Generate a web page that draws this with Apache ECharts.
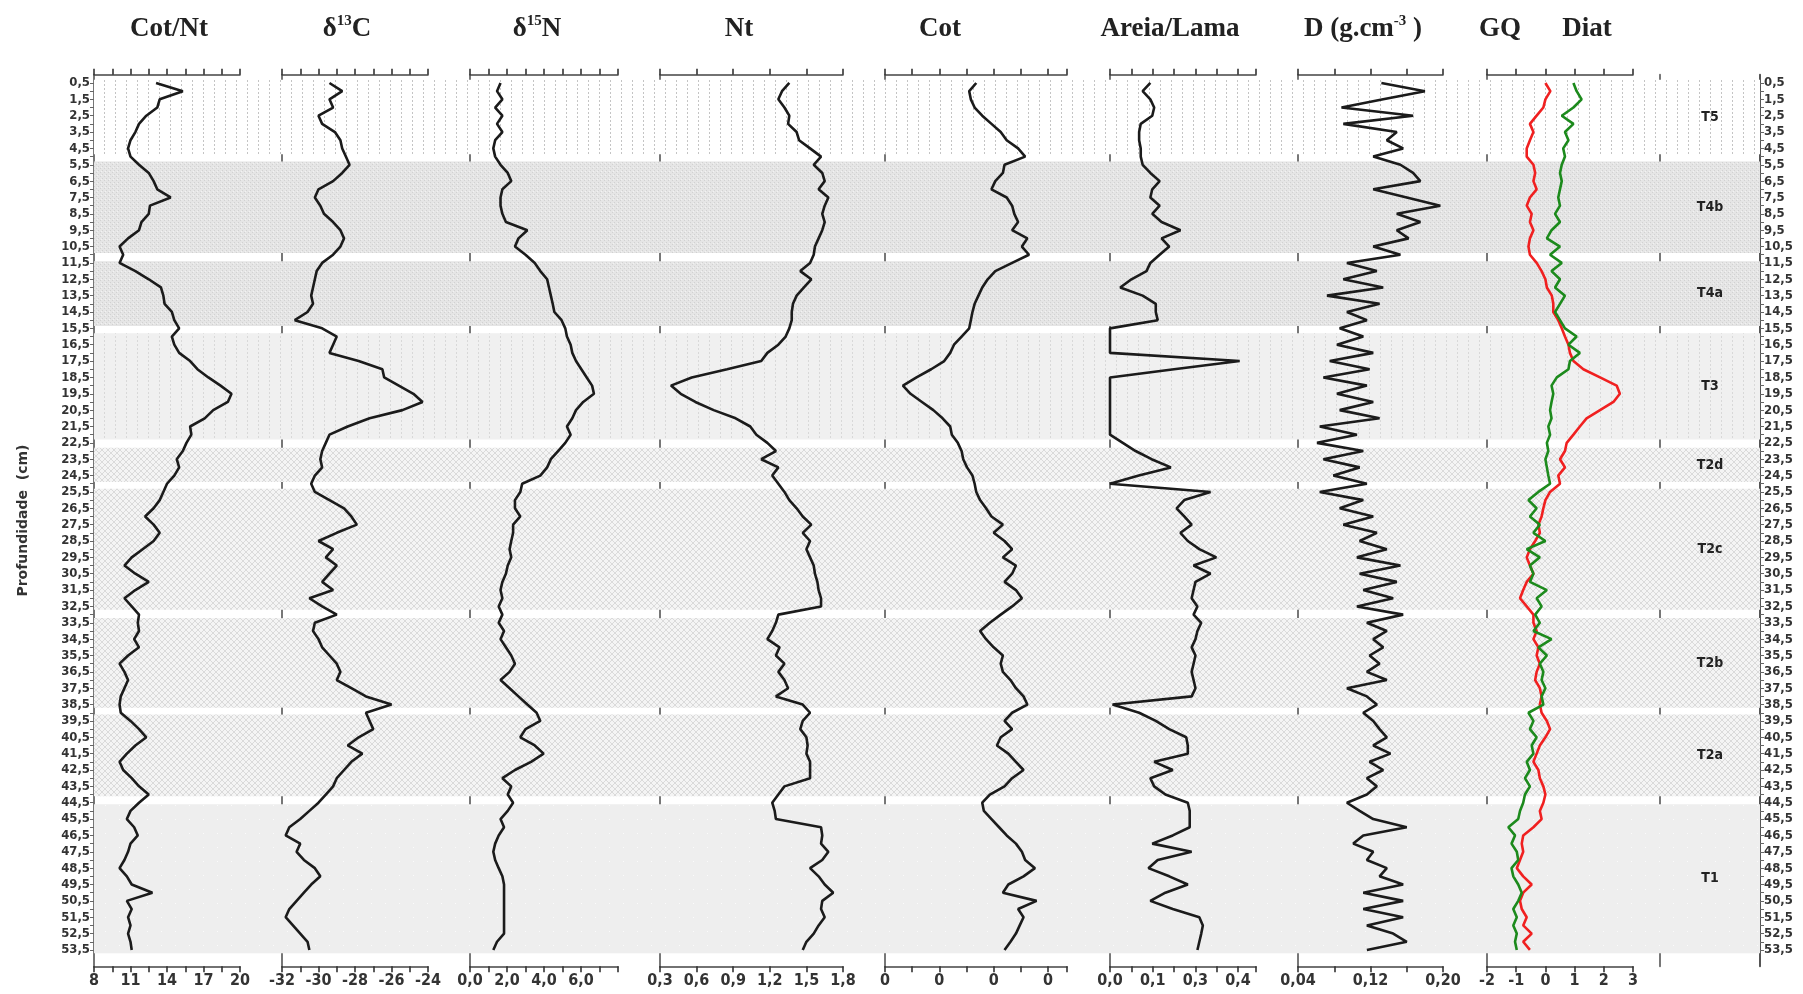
<!DOCTYPE html>
<html>
<head>
<meta charset="utf-8">
<script src="https://cdn.jsdelivr.net/npm/echarts@6/dist/echarts.min.js"></script>
<style>
html, body { margin: 0; background: #fff; }
#container { width: 1803px; height: 994px; }
</style>
</head>
<body>
<div id="container"></div>
<script>
let chart = echarts.init(document.getElementById('container'));

// sampling depth (cm), every 0.5 cm
var depth = [0.5,1,1.5,2,2.5,3,3.5,4,4.5,5,
    5.5,6,6.5,7,7.5,8,8.5,9,9.5,10,
    10.5,11,11.5,12,12.5,13,13.5,14,14.5,15,
    15.5,16,16.5,17,17.5,18,18.5,19,19.5,20,
    20.5,21,21.5,22,22.5,23,23.5,24,24.5,25,
    25.5,26,26.5,27,27.5,28,28.5,29,29.5,30,
    30.5,31,31.5,32,32.5,33,33.5,34,34.5,35,
    35.5,36,36.5,37,37.5,38,38.5,39,39.5,40,
    40.5,41,41.5,42,42.5,43,43.5,44,44.5,45,
    45.5,46,46.5,47,47.5,48,48.5,49,49.5,50,
    50.5,51,51.5,52,52.5,53,53.5];

var cotNt = [13.1,15.3,13.4,13.2,12.3,11.7,11.4,11.0,10.8,11.0,
    11.7,12.5,12.9,13.2,14.3,12.6,12.5,11.9,11.7,10.8,
    10.1,10.4,10.1,11.4,12.5,13.5,13.7,13.8,14.4,14.6,
    15.0,14.4,14.6,15.0,15.9,16.5,17.4,18.4,19.3,19.0,
    17.8,17.1,15.9,16.0,15.6,15.3,14.8,15.0,14.6,14.0,
    13.7,13.4,12.9,12.2,12.9,13.4,12.9,12.0,11.1,10.5,
    11.4,12.5,11.4,10.5,11.1,11.7,11.6,11.7,11.3,11.7,
    10.8,10.1,10.5,10.8,10.5,10.2,10.1,10.2,11.0,11.7,
    12.3,11.4,10.7,10.1,10.4,11.1,11.7,12.5,11.7,11.0,
    10.7,11.3,11.6,11.0,10.8,10.5,10.1,10.7,11.1,12.8,
    10.7,11.1,10.8,11.0,10.8,11.0,11.1];

var d13C = [-29.4,-28.7,-29.4,-29.2,-30.0,-29.8,-29.1,-28.8,-28.7,-28.5,
    -28.3,-28.7,-29.2,-30.0,-30.2,-29.9,-29.7,-29.2,-28.8,-28.6,
    -28.8,-29.2,-29.8,-30.1,-30.2,-30.3,-30.4,-30.3,-30.6,-31.3,
    -29.8,-29.0,-29.2,-29.4,-27.8,-26.5,-26.4,-25.6,-24.8,-24.3,
    -25.4,-27.2,-28.4,-29.4,-29.6,-29.8,-29.9,-29.8,-30.2,-30.4,
    -30.2,-29.4,-28.6,-28.2,-27.9,-29.0,-30.0,-29.2,-29.6,-29.0,
    -29.4,-29.8,-29.2,-30.5,-29.8,-29.0,-30.2,-30.3,-30.0,-29.8,
    -29.4,-29.0,-28.8,-29.0,-28.2,-27.4,-26.0,-27.4,-27.2,-27.0,
    -27.8,-28.4,-27.6,-28.2,-28.6,-29.0,-29.2,-29.6,-30.0,-30.5,
    -31.0,-31.6,-31.8,-31.0,-31.2,-30.8,-30.2,-29.9,-30.4,-30.8,
    -31.2,-31.6,-31.8,-31.4,-31.0,-30.6,-30.5];

var d15N = [1.65,1.46,1.75,1.36,1.75,1.46,1.75,1.36,1.26,1.36,
    1.65,2.04,2.23,1.75,1.65,1.65,1.75,1.94,3.1,2.62,
    2.43,3.0,3.5,3.8,4.17,4.27,4.37,4.47,4.56,4.95,
    5.15,5.24,5.44,5.53,5.73,6.02,6.31,6.6,6.7,6.12,
    5.73,5.53,5.24,5.44,5.15,4.76,4.37,4.17,3.8,2.82,
    2.72,2.43,2.43,2.72,2.33,2.33,2.23,2.14,2.23,2.04,
    1.94,1.75,1.65,1.75,1.55,1.75,1.55,1.84,1.65,1.94,
    2.23,2.43,2.14,1.65,2.14,2.62,3.1,3.6,3.8,3.0,
    2.72,3.5,3.98,3.3,2.43,1.75,2.23,2.04,2.33,2.04,
    1.65,1.84,1.55,1.36,1.26,1.36,1.55,1.75,1.84,1.84,
    1.84,1.84,1.84,1.84,1.84,1.46,1.26];

var nt = [1.36,1.30,1.27,1.32,1.36,1.35,1.42,1.44,1.53,1.62,
    1.56,1.63,1.65,1.60,1.68,1.65,1.63,1.65,1.63,1.60,
    1.57,1.56,1.53,1.45,1.54,1.48,1.42,1.39,1.38,1.38,
    1.36,1.33,1.27,1.18,1.13,0.85,0.56,0.39,0.47,0.59,
    0.74,0.92,1.04,1.09,1.18,1.25,1.13,1.27,1.22,1.27,
    1.32,1.36,1.42,1.47,1.54,1.47,1.53,1.50,1.53,1.56,
    1.57,1.59,1.60,1.62,1.62,1.27,1.25,1.22,1.18,1.28,
    1.25,1.32,1.27,1.32,1.35,1.25,1.47,1.53,1.47,1.45,
    1.50,1.51,1.50,1.53,1.53,1.53,1.32,1.27,1.22,1.24,
    1.25,1.62,1.63,1.62,1.68,1.63,1.53,1.60,1.65,1.72,
    1.63,1.62,1.65,1.60,1.56,1.50,1.47];

var cot = [1.68,1.55,1.58,1.65,1.79,1.96,2.13,2.24,2.45,2.58,
    2.20,2.17,2.03,1.96,2.24,2.34,2.38,2.45,2.34,2.62,
    2.52,2.65,2.34,2.03,1.89,1.79,1.72,1.65,1.61,1.58,
    1.55,1.41,1.27,1.20,1.09,0.85,0.58,0.33,0.47,0.68,
    0.89,1.06,1.20,1.23,1.34,1.41,1.44,1.51,1.61,1.65,
    1.68,1.75,1.86,1.96,2.17,2.00,2.20,2.34,2.17,2.41,
    2.34,2.20,2.41,2.52,2.34,2.13,1.93,1.75,1.86,2.00,
    2.17,2.13,2.17,2.31,2.41,2.55,2.62,2.34,2.20,2.34,
    2.13,2.06,2.27,2.41,2.55,2.34,2.20,1.93,1.79,1.82,
    1.96,2.10,2.24,2.41,2.52,2.58,2.76,2.55,2.27,2.17,
    2.79,2.45,2.55,2.48,2.41,2.31,2.20];

var areiaLama = [0.126,0.102,0.126,0.138,0.132,0.096,0.091,0.091,0.096,0.096,
    0.102,0.126,0.155,0.132,0.126,0.155,0.132,0.161,0.220,0.161,
    0.185,0.155,0.126,0.114,0.067,0.032,0.102,0.143,0.143,0.149,
    0,0,0,0,0.405,0.2,0,0,0,0,
    0,0,0,0,0.04,0.08,0.13,0.19,0.09,0,
    0.314,0.232,0.208,0.232,0.255,0.220,0.243,0.279,0.332,0.261,
    0.314,0.267,0.261,0.255,0.273,0.261,0.285,0.273,0.267,0.255,
    0.267,0.261,0.255,0.261,0.267,0.255,0.008,0.091,0.143,0.185,
    0.238,0.243,0.243,0.138,0.196,0.126,0.138,0.173,0.243,0.249,
    0.249,0.249,0.196,0.132,0.255,0.149,0.120,0.185,0.243,0.173,
    0.126,0.196,0.279,0.290,0.285,0.279,0.273];

var density = [0.132,0.180,0.134,0.088,0.167,0.090,0.149,0.138,0.156,0.123,
    0.153,0.167,0.175,0.123,0.160,0.197,0.149,0.175,0.149,0.162,
    0.123,0.153,0.094,0.127,0.090,0.134,0.072,0.130,0.094,0.116,
    0.086,0.112,0.083,0.123,0.075,0.119,0.068,0.116,0.083,0.123,
    0.086,0.130,0.064,0.105,0.061,0.112,0.068,0.108,0.079,0.116,
    0.064,0.112,0.086,0.123,0.090,0.127,0.108,0.138,0.105,0.153,
    0.108,0.149,0.112,0.145,0.105,0.156,0.116,0.138,0.123,0.134,
    0.119,0.130,0.116,0.138,0.094,0.116,0.127,0.112,0.123,0.130,
    0.138,0.123,0.142,0.119,0.134,0.116,0.127,0.116,0.094,0.108,
    0.123,0.160,0.112,0.101,0.123,0.116,0.138,0.130,0.156,0.112,
    0.156,0.112,0.156,0.116,0.145,0.160,0.116];

var gq = [0.0,0.17,0.0,-0.07,-0.3,-0.53,-0.41,-0.53,-0.64,-0.64,
    -0.41,-0.35,-0.41,-0.30,-0.53,-0.64,-0.47,-0.53,-0.41,-0.53,
    -0.58,-0.53,-0.30,-0.13,0.0,0.05,0.22,0.27,0.27,0.44,
    0.56,0.67,0.79,0.84,0.96,1.30,1.87,2.44,2.55,2.33,
    1.87,1.41,1.18,0.96,0.73,0.67,0.50,0.67,0.44,0.50,
    0.16,0.0,-0.07,-0.13,-0.24,-0.19,-0.35,-0.53,-0.64,-0.53,
    -0.41,-0.64,-0.76,-0.87,-0.64,-0.41,-0.41,-0.30,-0.41,-0.24,
    -0.30,-0.19,-0.30,-0.35,-0.19,-0.13,-0.19,-0.13,0.05,0.16,
    0.0,-0.19,-0.30,-0.41,-0.24,-0.19,-0.07,0.0,-0.07,-0.19,
    -0.13,-0.41,-0.76,-0.81,-0.76,-0.87,-0.98,-0.76,-0.47,-0.76,
    -0.87,-0.81,-0.64,-0.76,-0.47,-0.76,-0.53];

var diat = [0.96,1.07,1.24,0.96,0.56,0.96,0.67,0.79,0.61,0.67,
    0.56,0.50,0.56,0.50,0.44,0.50,0.33,0.50,0.21,0.05,
    0.50,0.16,0.56,0.21,0.50,0.33,0.67,0.50,0.33,0.50,
    0.67,1.07,0.79,1.18,0.84,0.79,0.39,0.21,0.27,0.21,
    0.16,0.21,0.10,0.16,0.05,0.10,0.0,0.05,0.10,0.16,
    -0.24,-0.58,-0.30,-0.53,-0.19,-0.41,0.0,-0.64,-0.19,-0.53,
    -0.41,-0.53,0.05,-0.30,-0.13,-0.35,-0.19,-0.41,0.21,-0.24,
    0.05,-0.19,-0.07,-0.13,0.0,-0.13,-0.07,-0.58,-0.41,-0.53,
    -0.30,-0.47,-0.41,-0.64,-0.53,-0.70,-0.53,-0.70,-0.76,-0.87,
    -0.93,-1.27,-1.04,-1.16,-0.98,-0.93,-1.16,-1.10,-0.93,-0.81,
    -0.93,-1.10,-0.98,-1.10,-0.98,-1.04,-0.98];

// zones (depth limits, cm)
var zoneNames = ['T5', 'T4b', 'T4a', 'T3', 'T2d', 'T2c', 'T2b', 'T2a', 'T1'];
var zoneTop = [0.3, 5.3, 11.4, 15.8, 22.8, 25.3, 33.2, 39.1, 44.6];
var zoneBottom = [4.85, 10.9, 15.35, 22.3, 24.9, 32.7, 38.7, 44.1, 53.7];

var NARROW = "'Liberation Sans Narrow','DejaVu Sans Condensed','Arial Narrow',sans-serif";
var SERIF = "'Liberation Serif','Times New Roman',serif";
var TOP = 74.8, HEIGHT = 891.5, DMAX = 54.5;

function pattern(w, h, bg, draw) {
    let c = document.createElement('canvas');
    c.width = w;
    c.height = h;
    let ctx = c.getContext('2d');
    ctx.fillStyle = bg;
    ctx.fillRect(0, 0, w, h);
    draw(ctx);
    return { image: c, repeat: 'repeat' };
}
var patVert = pattern(11, 4, '#ffffff', ctx => { ctx.fillStyle = '#c4c4c4'; ctx.fillRect(5, 0, 1, 2); });
var patSpeck = pattern(4, 4, '#e5e5e5', ctx => {
    ctx.fillStyle = '#d1d1d1'; ctx.fillRect(0, 0, 1, 1); ctx.fillRect(2, 2, 1, 1);
    ctx.fillStyle = '#f2f2f2'; ctx.fillRect(1, 3, 1, 1);
});
var patVertGray = pattern(11, 4, '#f0f0f0', ctx => { ctx.fillStyle = '#d8d8d8'; ctx.fillRect(5, 0, 1, 2); });
var patHatch = pattern(6, 6, '#f4f4f4', ctx => {
    ctx.fillStyle = '#dadada';
    for (let i = 0; i < 6; i++) { ctx.fillRect(i, i, 1, 1); ctx.fillRect(5 - i, i, 1, 1); }
});
var patPlain = pattern(14, 14, '#eeeeee', ctx => { ctx.fillStyle = '#fbfbfb'; ctx.fillRect(7, 7, 1, 1); });
var zonePattern = [patVert, patSpeck, patSpeck, patVertGray, patHatch, patHatch, patHatch, patHatch, patPlain];

function comma(v, n) {
    return v.toFixed(n).replace('.', ',');
}

var panels = [
    { left: 94, width: 146, min: 8, max: 20, interval: 3, minor: 2, fmt: v => String(v),
      lines: [{ data: cotNt, color: '#1b1b1b' }] },
    { left: 282, width: 146, min: -32, max: -24, interval: 2, minor: 2, fmt: v => String(v),
      lines: [{ data: d13C, color: '#1b1b1b' }] },
    { left: 470, width: 148, min: 0, max: 8, interval: 2, minor: 2, fmt: v => comma(v, 1), hideMax: true,
      lines: [{ data: d15N, color: '#1b1b1b' }] },
    { left: 660, width: 183, min: 0.3, max: 1.8, interval: 0.3, minor: 0, fmt: v => comma(v, 1),
      lines: [{ data: nt, color: '#1b1b1b' }] },
    { left: 885, width: 182, min: 0, max: 3.35, interval: 1, minor: 2, fmt: v => '0', hideMax: true,
      lines: [{ data: cot, color: '#1b1b1b' }] },
    { left: 1110, width: 146, min: 0, max: 0.456, interval: 0.4 / 3, minor: 2, fmt: v => comma(v, 1), hideMax: true,
      lines: [{ data: areiaLama, color: '#1b1b1b' }] },
    { left: 1298, width: 145, min: 0.04, max: 0.2, interval: 0.04, minor: 0,
      fmt: v => (Math.round(v / 0.04) % 2 === 1 ? comma(v, 2) : ''),
      lines: [{ data: density, color: '#1b1b1b' }] },
    { left: 1487, width: 146, min: -2, max: 3, interval: 1, minor: 0, fmt: v => String(v),
      lines: [{ data: gq, color: '#f02020' }, { data: diat, color: '#1c8a1c' }] },
];

function panelXAxis(p, gi, pos) {
    return {
        type: 'value', gridIndex: gi, position: pos,
        min: p.min, max: p.max, interval: p.interval,
        splitLine: { show: false },
        axisLine: { show: true, onZero: false, lineStyle: { color: '#444', width: 1.6 } },
        axisTick: { show: true, length: 6, lineStyle: { color: '#333', width: 1.6 } },
        minorTick: { show: p.minor > 0, splitNumber: p.minor || 5, length: 6, lineStyle: { color: '#333', width: 1.6 } },
        axisLabel: pos === 'top' ? { show: false } : {
            show: true, formatter: p.fmt, showMaxLabel: !p.hideMax,
            fontFamily: NARROW, fontWeight: 'bold', fontSize: 16, color: '#333', margin: 7
        }
    };
}

function depthAxis(gi, extra) {
    return Object.assign({
        type: 'value', gridIndex: gi, inverse: true, min: 0, max: DMAX,
        splitLine: { show: false },
        axisLine: { show: true, onZero: false, lineStyle: { color: '#777', width: 2 } },
        axisTick: { show: false },
        axisLabel: { show: false }
    }, extra);
}

var labelDepth = depth.filter(d => d % 1 === 0.5);
function depthScale(pos) {
    return {
        position: pos,
        axisLine: { show: true, onZero: false, lineStyle: { color: '#555', width: 2 } },
        axisTick: { show: true, length: 4, customValues: depth, lineStyle: { color: '#666' } },
        axisLabel: {
            show: true, customValues: labelDepth, formatter: v => comma(v, 1),
            fontFamily: NARROW, fontWeight: 'bold', fontSize: 13, color: '#333', margin: 4
        }
    };
}

var grids = [{ left: 94, top: TOP, width: 1666, height: HEIGHT }];
panels.forEach(p => grids.push({ left: p.left, top: TOP, width: p.width, height: HEIGHT }));
grids.push({ left: 1660, top: TOP, width: 100, height: HEIGHT });
grids.forEach(g => { g.containLabel = false; g.outerBoundsMode = 'none'; });

var xAxes = [
    { type: 'value', gridIndex: 0, show: false, min: 0, max: 1 },
    { type: 'value', gridIndex: 9, show: false, min: 0, max: 1 }
];
var yAxes = [
    depthAxis(0, Object.assign(depthScale('left'), {
        name: 'Profundidade  (cm)', nameLocation: 'middle', nameGap: 64, nameRotate: 90,
        nameTextStyle: { fontFamily: 'DejaVu Sans', fontWeight: 'bold', fontSize: 14, color: '#333' }
    })),
    depthAxis(0, depthScale('right')),
    depthAxis(9, { position: 'left' })
];

var series = [
    {
        type: 'line', xAxisIndex: 0, yAxisIndex: 0, data: [], z: 0, silent: true,
        markArea: {
            silent: true, label: { show: false },
            data: zoneNames.map((n, i) => [{ yAxis: zoneTop[i], itemStyle: { color: zonePattern[i] } }, { yAxis: zoneBottom[i] }])
        }
    },
    {
        type: 'line', xAxisIndex: 1, yAxisIndex: 2, data: [], silent: true,
        markArea: {
            silent: true,
            itemStyle: { color: 'rgba(0,0,0,0)' },
            label: { show: true, position: 'inside', fontFamily: NARROW, fontWeight: 'bold', fontSize: 14, color: '#222' },
            data: zoneNames.map((n, i) => [{ name: n, yAxis: zoneTop[i] }, { yAxis: zoneBottom[i] }])
        }
    }
];

panels.forEach((p, k) => {
    let gi = k + 1;
    xAxes.push(panelXAxis(p, gi, 'top'));
    xAxes.push(panelXAxis(p, gi, 'bottom'));
    yAxes.push(depthAxis(gi, {}));
    let xi = xAxes.length - 1;
    let yi = yAxes.length - 1;
    p.lines.forEach(l => {
        series.push({
            type: 'line', xAxisIndex: xi, yAxisIndex: yi, z: 5,
            showSymbol: false, symbol: 'none', animation: false,
            lineStyle: { color: l.color, width: 2.6 },
            data: depth.map((d, i) => [l.data[i], d])
        });
    });
});

var titles = [
    [169, '{b|Cot/Nt}'],
    [347, '{b|δ}{s|13}{b|C}'],
    [537, '{b|δ}{s|15}{b|N}'],
    [739, '{b|Nt}'],
    [940, '{b|Cot}'],
    [1170, '{b|Areia/Lama}'],
    [1363, '{b|D (g.cm}{s|-3}{b| )}'],
    [1500, '{b|GQ}'],
    [1587, '{b|Diat}']
];
var graphic = titles.map(t => ({
    type: 'text', x: t[0], y: 29, silent: true,
    style: {
        text: t[1], align: 'center', verticalAlign: 'middle',
        rich: {
            b: { fontFamily: SERIF, fontWeight: 'bold', fontSize: 27, fill: '#222', lineHeight: 30 },
            s: { fontFamily: SERIF, fontWeight: 'bold', fontSize: 15, fill: '#222', verticalAlign: 'top' }
        }
    }
}));

var option = {
    backgroundColor: '#ffffff',
    animation: false,
    grid: grids,
    xAxis: xAxes,
    yAxis: yAxes,
    series: series,
    graphic: graphic
};
chart.setOption(option);
</script>
</body>
</html>
